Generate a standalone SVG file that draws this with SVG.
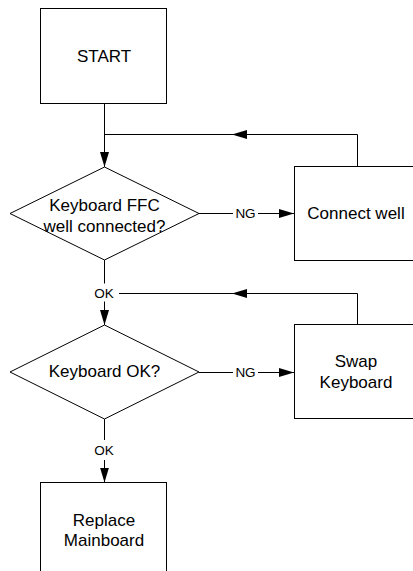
<svg xmlns="http://www.w3.org/2000/svg" width="413" height="571" viewBox="0 0 413 571">
  <style>
    .shape { fill: #fff; stroke: #000; stroke-width: 1; }
    .line { fill: none; stroke: #000; stroke-width: 1; }
    .t { font-family: "Liberation Sans", Arial, sans-serif; font-size: 17px; fill: #000; text-anchor: middle; }
    .lbl { font-family: "Liberation Sans", Arial, sans-serif; font-size: 13.5px; fill: #000; text-anchor: middle; }
  </style>
  <defs>
    <marker id="arrow" markerUnits="userSpaceOnUse" markerWidth="15" markerHeight="9" refX="15" refY="4.5" orient="auto">
      <path d="M0,0 L15,4.5 L0,9 z" fill="#000"/>
    </marker>
  </defs>
  <rect width="413" height="571" fill="#fff"/>

  <g id="connectors">
    <path class="line" d="M104.5,103 V167" marker-end="url(#arrow)"/>
    <path class="line" d="M357.5,166 V134.5 H232" marker-end="url(#arrow)"/>
    <path class="line" d="M232,134.5 H104.5"/>
    <path class="line" d="M199,213.5 H233"/>
    <path class="line" d="M258,213.5 H294" marker-end="url(#arrow)"/>
    <text class="lbl" x="245.5" y="218.3">NG</text>
    <path class="line" d="M104.5,260 V283.5"/>
    <text class="lbl" x="104" y="297.5">OK</text>
    <path class="line" d="M104.5,301.5 V325" marker-end="url(#arrow)"/>
    <path class="line" d="M357.5,324 V293.5 H232" marker-end="url(#arrow)"/>
    <path class="line" d="M232,293.5 H119"/>
    <path class="line" d="M199,372.5 H233"/>
    <path class="line" d="M258,372.5 H294" marker-end="url(#arrow)"/>
    <text class="lbl" x="245.5" y="377.3">NG</text>
    <path class="line" d="M104.5,419 V440"/>
    <text class="lbl" x="104" y="455">OK</text>
    <path class="line" d="M104.5,460 V482.5" marker-end="url(#arrow)"/>
  </g>

  <g id="start">
    <rect class="shape" x="40.5" y="8.5" width="126" height="95"/>
    <text class="t" x="104" y="62.3">START</text>
  </g>

  <g id="check-ffc">
    <polygon class="shape" points="104.5,167 199,213.5 104.5,260 10,213.5"/>
    <text class="t" x="104.5" y="210.5">Keyboard FFC</text>
    <text class="t" x="104.5" y="231.5">well connected?</text>
  </g>

  <g id="connect-well">
    <rect class="shape" x="294.5" y="166.5" width="130" height="94"/>
    <text class="t" x="356" y="219.3">Connect well</text>
  </g>

  <g id="check-keyboard">
    <polygon class="shape" points="104.5,325 199,372 104.5,419 10,372"/>
    <text class="t" x="104.5" y="377.3">Keyboard OK?</text>
  </g>

  <g id="swap-keyboard">
    <rect class="shape" x="294.5" y="324.5" width="130" height="94"/>
    <text class="t" x="356" y="367.3">Swap</text>
    <text class="t" x="356" y="387.5">Keyboard</text>
  </g>

  <g id="replace-mainboard">
    <rect class="shape" x="40.5" y="482.5" width="126" height="100"/>
    <text class="t" x="104" y="526">Replace</text>
    <text class="t" x="104" y="546">Mainboard</text>
  </g>
</svg>
